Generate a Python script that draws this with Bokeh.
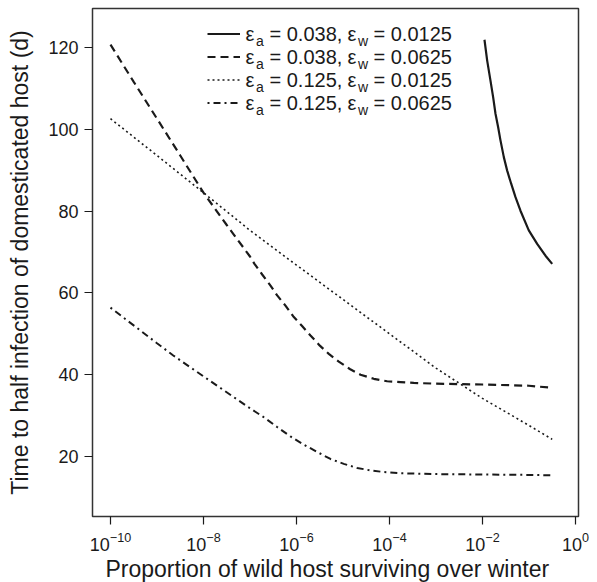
from bokeh.plotting import figure
from bokeh.models import FixedTicker, Legend, LegendItem, Label, Range1d, Title
from bokeh.embed import file_html
from bokeh.resources import INLINE

FONT = "Liberation Sans"
INK = "#1a1a1a"

# ---- data ----
# eps_a = 0.038, eps_w = 0.0125 (solid)
solid_x = [0.01104, 0.01262, 0.01486, 0.01698, 0.01905, 0.02173, 0.02438, 0.02877,
           0.03396, 0.0414, 0.05129, 0.06561, 0.09908, 0.15, 0.2265, 0.3155]
solid_y = [121.9, 116.8, 111.9, 107.8, 103.8, 100.5, 97.3, 93.2,
           89.9, 86.7, 83.4, 80.1, 75.3, 72.0, 69.1, 67.1]

# eps_a = 0.038, eps_w = 0.0625 (dashed)
dashed_x = [1e-10, 3.16e-10, 1e-9, 3.16e-9, 1e-8, 3.16e-8, 1e-7, 1.25e-7, 1.83e-7,
            2.76e-7, 3.84e-7, 5.79e-7, 8.47e-7, 1.32e-6, 2.0e-6, 3.18e-6, 4.95e-6,
            8.13e-6, 1.4e-5, 2.38e-5, 4.6e-5, 8.9e-5, 1.73e-4, 3.33e-4, 1e-3,
            1e-2, 1e-1, 0.316]
dashed_y = [120.7, 111.6, 102.6, 93.6, 84.5, 76.6, 68.9, 67.1, 64.5,
            61.8, 59.4, 56.9, 54.3, 51.9, 49.6, 47.1, 45.1,
            43.2, 41.4, 40.0, 39.0, 38.4, 38.2, 38.0, 37.8,
            37.6, 37.3, 36.8]

# eps_a = 0.125, eps_w = 0.0125 (dotted)
dotted_x = [1e-10, 1e-9, 1e-8, 1e-7, 1e-6, 1e-5, 1e-4, 1e-3, 1e-2, 1e-1, 0.316]
dotted_y = [102.6, 93.6, 84.5, 75.3, 66.8, 58.4, 50.0, 41.6, 34.2, 27.6, 24.2]

# eps_a = 0.125, eps_w = 0.0625 (dot-dash)
dotdash_x = [1e-10, 1e-9, 2.24e-9, 1e-8, 1.03e-7, 1.98e-7, 3.84e-7, 7.43e-7,
             1.44e-6, 2.79e-6, 5.38e-6, 1.04e-5, 2.02e-5, 3.9e-5, 7.55e-5,
             1.73e-4, 3.94e-4, 1e-3, 1e-2, 1e-1, 0.316]
dotdash_y = [56.4, 47.7, 44.7, 39.6, 31.7, 29.6, 27.2, 24.9,
             22.9, 21.1, 19.4, 18.2, 17.2, 16.6, 16.2,
             15.9, 15.8, 15.7, 15.6, 15.5, 15.4]

x_ticks = [1e-10, 1e-8, 1e-6, 1e-4, 1e-2, 1.0]
y_ticks = [20, 40, 60, 80, 100, 120]

legend_eps_a = ["0.038", "0.038", "0.125", "0.125"]
legend_eps_w = ["0.0125", "0.0625", "0.0125", "0.0625"]

x_label = "Proportion of wild host surviving over winter"
y_label = "Time to half infection of domesticated host (d)"

# ---- figure ----
p = figure(width=597, height=582, x_axis_type="log",
           x_range=Range1d(10 ** -10.387, 10 ** 0.065),
           y_range=Range1d(5.33, 129.54),
           output_backend="svg", toolbar_location=None,
           min_border_left=92, min_border_right=19,
           min_border_top=8, min_border_bottom=66)

p.background_fill_color = "white"
p.border_fill_color = "white"
p.grid.visible = False
p.outline_line_color = "#333333"
p.outline_line_width = 1.5
p.outline_line_alpha = 1.0

r1 = p.line(solid_x, solid_y, line_color=INK, line_width=2.2)
r2 = p.line(dashed_x, dashed_y, line_color=INK, line_width=2.2, line_dash="8 5")
r3 = p.line(dotted_x, dotted_y, line_color=INK, line_width=1.6, line_dash="2 3")
r4 = p.line(dotdash_x, dotdash_y, line_color=INK, line_width=2.0, line_dash="2 4 7 4")

p.xaxis.ticker = FixedTicker(ticks=x_ticks, minor_ticks=[])
p.yaxis.ticker = FixedTicker(ticks=y_ticks, minor_ticks=[])
p.axis.axis_line_color = None
p.axis.major_tick_out = 8
p.axis.major_tick_in = 0
p.axis.major_tick_line_color = INK
p.axis.major_tick_line_width = 1.2
p.axis.minor_tick_line_color = None
p.axis.major_label_text_font = FONT
p.axis.major_label_text_font_size = "18px"
p.axis.major_label_text_color = INK
p.axis.axis_label_text_font = FONT
p.axis.axis_label_text_font_size = "23px"
p.axis.axis_label_text_font_style = "normal"
p.axis.axis_label_text_color = INK
p.yaxis.axis_label = y_label
p.xaxis.major_label_standoff = 7
p.yaxis.major_label_standoff = 6
p.yaxis.axis_label_standoff = 12

# x-axis title below the tick labels, starting where the reference's does
x_title = Title(text=x_label, align="left", offset=13, standoff=0,
                text_font=FONT, text_font_size="23px",
                text_font_style="normal", text_color=INK)
p.add_layout(x_title, "below")

# ---- legend: line samples ----
items = [LegendItem(label=" ", renderers=[r]) for r in (r1, r2, r3, r4)]
legend = Legend(items=items, location=(115, 402))
legend.background_fill_alpha = 0
legend.border_line_alpha = 0
legend.padding = 0
legend.margin = 0
legend.spacing = 0
legend.glyph_height = 23
legend.glyph_width = 33
legend.label_height = 23
legend.label_width = 0
legend.label_standoff = 0
legend.label_text_font_size = "1px"
p.add_layout(legend)

# ---- legend: texts with subscripts ----
row_y0 = 483
row_dy = 23
F = "20px"
FS = "14px"
for i in range(4):
    y = row_y0 - i * row_dy
    pieces = [
        (153, 0, "\u03b5", F),
        (163.5, -7, "a", FS),
        (177, 0, "= " + legend_eps_a[i] + ",", F),
        (255, 0, "\u03b5", F),
        (265.5, -7, "w", FS),
        (281, 0, "= " + legend_eps_w[i], F),
    ]
    for (x, dy, t, fs) in pieces:
        p.add_layout(Label(x=x, y=y + dy, x_units="screen", y_units="screen",
                           text=t, text_font=FONT, text_font_size=fs,
                           text_color=INK, text_baseline="middle"))

open("out.html", "w").write(file_html(p, INLINE))
